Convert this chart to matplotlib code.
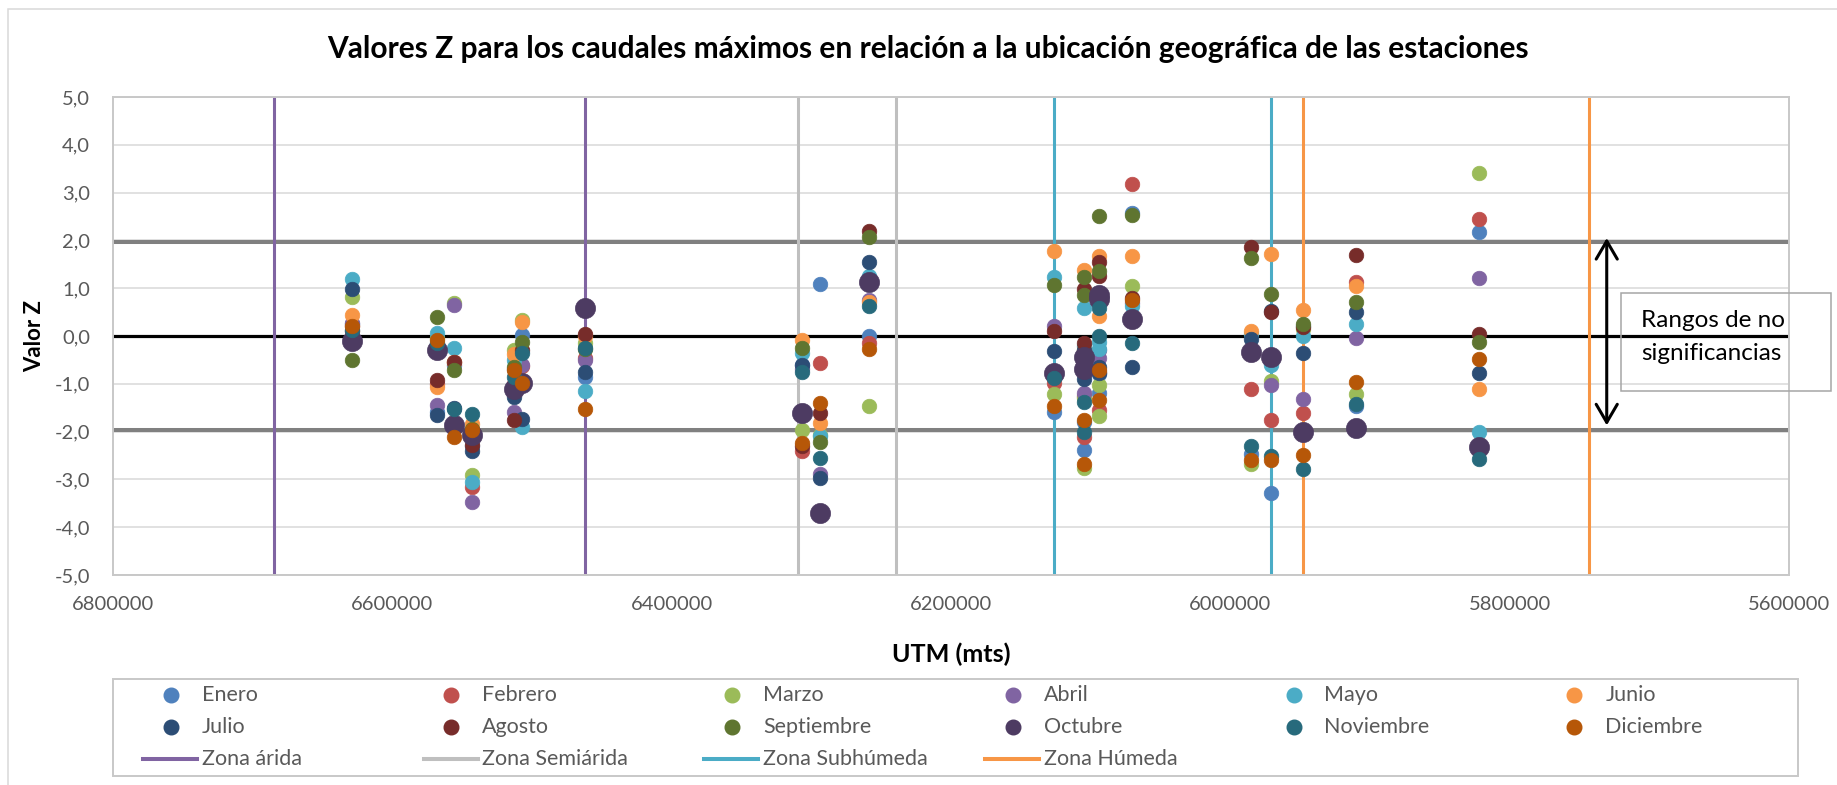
import matplotlib
matplotlib.use('Agg')
import matplotlib.pyplot as plt
from matplotlib.lines import Line2D
from matplotlib.patches import Rectangle
from matplotlib.ticker import FixedLocator, FuncFormatter

plt.rcParams['font.family'] = ['Lato', 'DejaVu Sans']

W, H, DPI = 1837, 785, 100

TITLE = "Valores Z para los caudales máximos en relación a la ubicación geográfica de las estaciones"
X_LABEL = "UTM (mts)"
Y_LABEL = "Valor Z"
BOX_TEXT = ["Rangos de no", "significancias"]

# Station positions (UTM north, m) — one entry per station column of points
stations_utm = [6629000, 6568000, 6556000, 6543000, 6513000, 6507000, 6462000,
                6306500, 6294000, 6259000, 6126000, 6105000, 6105000, 6094000, 6094000,
                6070500, 5985000, 5971000, 5948000, 5910000, 5822000]

months = ["Enero", "Febrero", "Marzo", "Abril", "Mayo", "Junio",
          "Julio", "Agosto", "Septiembre", "Octubre", "Noviembre", "Diciembre"]
month_colors = ["#4F81BD", "#C0504D", "#9BBB59", "#8064A2", "#4BACC6", "#F79646",
                "#2C4D75", "#772C2A", "#5F7530", "#4D3B62", "#276A7C", "#B65708"]

enero      = [0.25, -1.60, -0.60, -2.30, -0.70, 0.02, -0.85, -0.60, 1.09, -0.01, -1.59, -1.80, -2.39, -1.20, -0.80, 2.57, -2.46, -3.29, 0.20, -1.47, 2.17]
febrero    = [0.20, -1.00, -0.55, -3.15, -1.00, -0.63, -0.45, -2.41, -0.56, -0.15, -0.99, -1.25, -2.11, -1.55, -0.75, 3.17, -1.10, -1.76, -1.61, 1.14, 2.44]
marzo      = [0.81, -0.05, 0.68, -2.90, -0.29, 0.33, -0.15, -1.96, -2.07, -1.46, -1.22, -1.30, -2.76, -1.03, -1.68, 1.04, -2.67, -0.95, 0.15, -1.22, 3.40]
abril      = [0.27, -1.45, 0.65, -3.48, -1.59, -0.60, -0.50, -0.70, -2.89, 0.76, 0.20, -1.20, -0.50, -0.47, -0.30, 0.70, -0.30, -1.03, -1.31, -0.05, 1.21]
mayo       = [1.19, 0.06, -0.25, -3.06, -0.50, -1.90, -1.15, -0.35, -2.10, 1.25, 1.23, 0.59, -0.20, -0.13, -0.28, 0.62, 0.05, -0.60, 0.01, 0.25, -2.01]
junio      = [0.44, -1.06, -0.54, -1.85, -0.38, 0.30, 0.00, -0.08, -1.82, 0.72, 1.77, 1.39, -0.30, 1.67, 0.42, 1.68, 0.11, 1.72, 0.55, 1.05, -1.10]
julio      = [0.99, -1.66, -1.50, -2.41, -1.27, -1.74, -0.75, -0.61, -2.97, 1.54, -0.31, -0.89, -0.30, -0.64, -0.78, -0.64, -0.07, 0.52, -0.35, 0.51, -0.78]
agosto     = [0.10, -0.92, -0.54, -2.27, -1.76, -0.30, 0.04, -2.30, -1.62, 2.19, 0.11, 0.98, -0.14, 1.55, 1.26, 0.79, 1.86, 0.51, 0.18, 1.70, 0.04]
septiembre = [-0.50, 0.39, -0.71, -1.95, -0.64, -0.12, -0.27, -0.26, -2.22, 2.07, 1.06, 1.23, 0.85, 2.51, 1.35, 2.54, 1.63, 0.88, 0.25, 0.72, -0.12]
octubre    = [-0.10, -0.29, -1.87, -2.08, -1.10, -0.98, 0.58, -1.62, -3.71, 1.13, -0.77, -0.43, -0.68, 0.85, 0.77, 0.35, -0.34, -0.43, -2.01, -1.93, -2.33]
noviembre  = [0.13, -0.15, -1.52, -1.64, -0.85, -0.36, -0.25, -0.75, -2.56, 0.62, -0.87, -1.38, -2.01, 0.59, 0.01, -0.15, -2.30, -2.50, -2.78, -1.43, -2.58]
diciembre  = [0.20, -0.08, -2.12, -1.96, -0.71, -0.98, -1.52, -2.24, -1.41, -0.28, -1.47, -1.75, -2.67, -0.71, -1.33, 0.75, -2.59, -2.59, -2.49, -0.97, -0.48]
month_values = [enero, febrero, marzo, abril, mayo, junio, julio, agosto,
                septiembre, octubre, noviembre, diciembre]

zone_names = ["Zona árida", "Zona Semiárida", "Zona Subhúmeda", "Zona Húmeda"]
zone_colors = ["#8064A2", "#BFBFBF", "#4BACC6", "#F79646"]
zone_bounds = [[6684700, 6462000], [6309700, 6239700], [6126000, 5971000], [5948000, 5743200]]

z_crit = 1.96
arrow_x = 5730500
x_ticks = [6800000, 6600000, 6400000, 6200000, 6000000, 5800000, 5600000]
y_ticks = [-5, -4, -3, -2, -1, 0, 1, 2, 3, 4, 5]

TXT = "#595959"


def fx(px):
    return px / W


def fy(py):
    return 1 - py / H


fig = plt.figure(figsize=(W / DPI, H / DPI), dpi=DPI)
fig.patch.set_facecolor("white")

# outer chart border
fig.add_artist(Rectangle((fx(8), -0.05), 1.2, fy(9) + 0.05, transform=fig.transFigure,
                         fill=False, edgecolor="#D9D9D9", linewidth=1.1, clip_on=False))

ax = fig.add_axes([fx(113), fy(575), (1789 - 113) / W, (575 - 97) / H])
ax.set_xlim(x_ticks[0], x_ticks[-1])
ax.set_ylim(y_ticks[0], y_ticks[-1])
ax.xaxis.set_major_locator(FixedLocator(x_ticks))
ax.yaxis.set_major_locator(FixedLocator(y_ticks))
ax.xaxis.set_major_formatter(FuncFormatter(lambda v, p: f"{int(round(v))}"))
ax.yaxis.set_major_formatter(FuncFormatter(lambda v, p: f"{v:.1f}".replace(".", ",")))
ax.tick_params(axis="both", length=0, labelsize=14.5, labelcolor=TXT)
ax.tick_params(axis="y", pad=16.5)
ax.tick_params(axis="x", pad=15)
for s in ax.spines.values():
    s.set_color("#C8C8C8")
    s.set_linewidth(1.4)
ax.grid(axis="y", color="#D9D9D9", linewidth=1.1, zorder=0)
ax.grid(axis="x", visible=False)
ax.set_axisbelow(True)

# significance lines and zero line
ax.axhline(z_crit, color="#808080", linewidth=2.9, zorder=1)
ax.axhline(-z_crit, color="#808080", linewidth=2.9, zorder=1)
ax.axhline(0, color="black", linewidth=2.3, zorder=1)

# zone boundary lines
for bounds, col in zip(zone_bounds, zone_colors):
    for b in bounds:
        ax.axvline(b, color=col, linewidth=2.2, zorder=1.5)

# monthly points
for name, col, vals in zip(months, month_colors, month_values):
    ms = 14.5 if name == "Octubre" else 10.5
    ax.plot(stations_utm, vals, linestyle="none", marker="o", markersize=ms,
            markerfacecolor=col, markeredgecolor=col, markeredgewidth=0.5, zorder=3)

# double arrow for non-significance range
ax.annotate("", xy=(arrow_x, -1.87), xytext=(arrow_x, 2.05),
            arrowprops=dict(arrowstyle="<->,head_length=0.65,head_width=0.38",
                            color="black", linewidth=2.2, mutation_scale=20,
                            shrinkA=0, shrinkB=0),
            zorder=5, annotation_clip=False)

# text box
fig.add_artist(Rectangle((fx(1621), fy(391)), (1831 - 1621) / W, (391 - 293) / H,
                         transform=fig.transFigure, fill=False,
                         edgecolor="#A6A6A6", linewidth=1.1, zorder=6))
bt1 = fig.text(fx(1641), fy(327), BOX_TEXT[0], ha="left", va="baseline", fontsize=15, color="black", zorder=7)
bt2 = fig.text(fx(1641), fy(360), BOX_TEXT[1], ha="left", va="baseline", fontsize=15, color="black", zorder=7)

# title and axis labels, fitted to reference widths
title = fig.text(fx(928), fy(49), TITLE, ha="center", va="center", fontsize=20,
                 fontweight="bold", color="black")
xl = fig.text(fx(951), fy(654), X_LABEL, ha="center", va="center", fontsize=17,
              fontweight="bold", color="black")
yl = fig.text(fx(35), fy(336), Y_LABEL, ha="center", va="center", fontsize=17,
              fontweight="bold", color="black", rotation=90)
fig.canvas.draw()
r = fig.canvas.get_renderer()
for t, target, dim in [(title, 1201, "w"), (xl, 119, "w"), (yl, 72, "h"), (bt1, 144, "w")]:
    bb = t.get_window_extent(r)
    cur = bb.width if dim == "w" else bb.height
    t.set_fontsize(t.get_fontsize() * target / cur)
bt2.set_fontsize(bt1.get_fontsize())

# legend (Excel-like equal column grid)
fig.add_artist(Rectangle((fx(113), fy(776)), (1798 - 113) / W, (776 - 679) / H,
                         transform=fig.transFigure, fill=False,
                         edgecolor="#C8C8C8", linewidth=1.4))
col_step = 280.7
row_y = [695, 727, 759]
for i, (name, col) in enumerate(zip(months, month_colors)):
    r_i, c_i = divmod(i, 6)
    mx = 170.7 + col_step * c_i
    fig.add_artist(Line2D([fx(mx)], [fy(row_y[r_i])], transform=fig.transFigure,
                          marker="o", markersize=10.5, linestyle="none",
                          markerfacecolor=col, markeredgecolor=col))
    fig.text(fx(201.7 + col_step * c_i), fy(row_y[r_i]), name, ha="left", va="center",
             fontsize=15.5, color=TXT)
for c_i, (name, col) in enumerate(zip(zone_names, zone_colors)):
    x0 = 143 + col_step * c_i
    fig.add_artist(Line2D([fx(x0), fx(x0 + 54)], [fy(row_y[2])] * 2,
                          transform=fig.transFigure, color=col, linewidth=2.9))
    fig.text(fx(201.7 + col_step * c_i), fy(row_y[2]), name, ha="left", va="center",
             fontsize=15.5, color=TXT)

fig.savefig("out.png", dpi=DPI)
